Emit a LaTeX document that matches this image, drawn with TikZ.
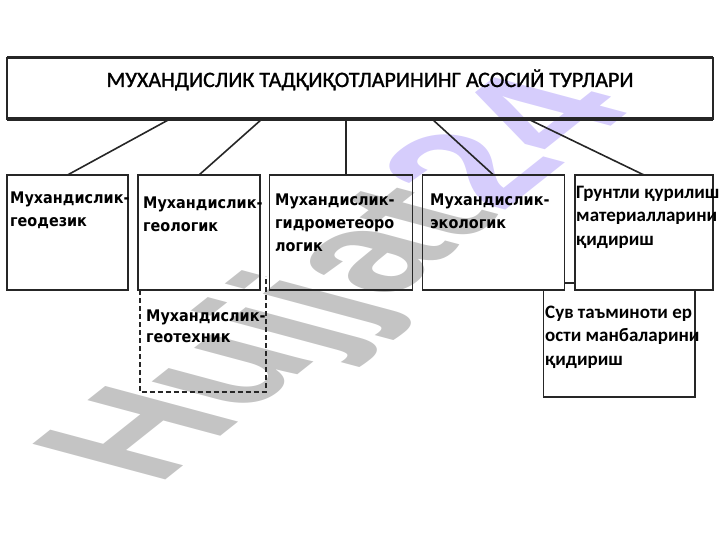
\documentclass[tikz,border=0pt]{standalone}
\usepackage{fontspec}
\setmainfont{Carlito}
\newfontfamily\boxfont[FakeStretch=0.9]{DejaVu Sans}
\newfontfamily\calfont{Carlito}
\newfontfamily\titlefont[FakeBold=1.2]{Carlito}
\newfontfamily\wmfont{Liberation Sans}
\definecolor{linec}{HTML}{262626}
\definecolor{wmgray}{HTML}{C4C4C4}
\definecolor{wmpurple}{HTML}{D6CDFC}
\begin{document}
\begin{tikzpicture}[x=1pt,y=-1pt,
  boxline/.style={draw=linec, line width=1.9pt},
  bx/.style={boxline, rectangle, inner sep=0pt, outer sep=0pt, anchor=north west},
  conn/.style={draw=linec, line width=1.6pt},
  dashline/.style={draw=linec, line width=2pt, dash pattern=on 5pt off 3pt},
  txt/.style={inner sep=0pt, anchor=north west, align=left, text=black},
  mtxt/.style={txt, font=\boxfont\bfseries\fontsize{16}{23}\selectfont},
  ctxt/.style={txt, font=\calfont\bfseries\fontsize{19}{23.5}\selectfont},
]
\useasboundingbox (0,0) rectangle (720,540);
% watermark
\begin{scope}[cm={1.2385,0.984,-1.932,0.518,(157,487)}]
  \node[transform shape, inner sep=0pt, anchor=base west,
        font=\wmfont\bfseries\fontsize{100}{100}\selectfont] (wm) at (0,0)
        {\textcolor{wmgray}{Hujjat}\textcolor{wmpurple}{24}};
\end{scope}
% top box
\node[bx, minimum width=706pt, minimum height=61.5pt] (top) at (7,57.5) {};
\draw[draw=linec, line width=3.2pt] (top.north west) -- (top.north east);
\draw[draw=linec, line width=3.2pt] (top.south west) -- (top.south east);
\node[inner sep=0pt, anchor=base, font=\titlefont\fontsize{22}{26}\selectfont] (title) at (370,87)
  {МУХАНДИСЛИК ТАДҚИҚОТЛАРИНИНГ АСОСИЙ ТУРЛАРИ};
% boxes
\node[bx, minimum width=121pt, minimum height=115pt] (b1) at (7,175) {};
\node[bx, minimum width=122pt, minimum height=115pt] (b2) at (138,175) {};
\node[bx, minimum width=143pt, minimum height=115pt] (b3) at (269.5,175) {};
\node[bx, minimum width=142pt, minimum height=115pt] (b4) at (422.5,175) {};
\node[bx, minimum width=138pt, minimum height=115pt] (b5) at (575,175) {};
% dashed box
\node[inner sep=0pt, outer sep=0pt, anchor=north west, minimum width=126pt, minimum height=102pt] (geo) at (139.5,290) {};
\draw[dashline] (geo.north west) -- (geo.south west) -- (geo.south east) -- ([yshift=14pt]geo.north east);
% water box
\node[inner sep=0pt, outer sep=0pt, anchor=north west, minimum width=151.5pt, minimum height=114pt] (sv) at (543.5,283) {};
\draw[boxline] (sv.north -| b4.east) -- (sv.north -| b5.west);
\draw[boxline] (b4.south -| sv.west) -- (sv.south west) -- (sv.south east) -- (b5.south -| sv.east);
% connectors
\coordinate (c1) at (170,119);
\coordinate (c2) at (262,119);
\coordinate (c3) at (346,119);
\coordinate (c4) at (432,119);
\coordinate (c5) at (528,119);
\draw[conn] (c1) -- (b1.north);
\draw[conn] (c2) -- (b2.north);
\draw[conn] (c3) -- (b3.north -| c3);
\draw[conn] (c4) -- (b4.north);
\draw[conn] (c5) -- (b5.north);
% texts
\node[mtxt] (t1) at (10,189) {\rule{0pt}{14pt}Мухандислик-\\геодезик};
\node[mtxt] (t2) at (143,194) {\rule{0pt}{14pt}Мухандислик-\\геологик};
\node[mtxt] (t3) at (275,191) {\rule{0pt}{14pt}Мухандислик-\\гидрометеоро\\логик};
\node[mtxt] (t4) at (430,191) {\rule{0pt}{14pt}Мухандислик-\\экологик};
\node[ctxt] (t5) at (576,184) {\rule{0pt}{14pt}Грунтли қурилиш\\материалларини\\қидириш};
\node[ctxt] (t6) at (545,304) {\rule{0pt}{14pt}Сув таъминоти ер\\ости манбаларини\\қидириш};
\node[mtxt, font=\boxfont\bfseries\fontsize{16}{21}\selectfont] (t7) at (146,307.7) {\rule{0pt}{14pt}Мухандислик-\\геотехник};
\end{tikzpicture}
\end{document}
